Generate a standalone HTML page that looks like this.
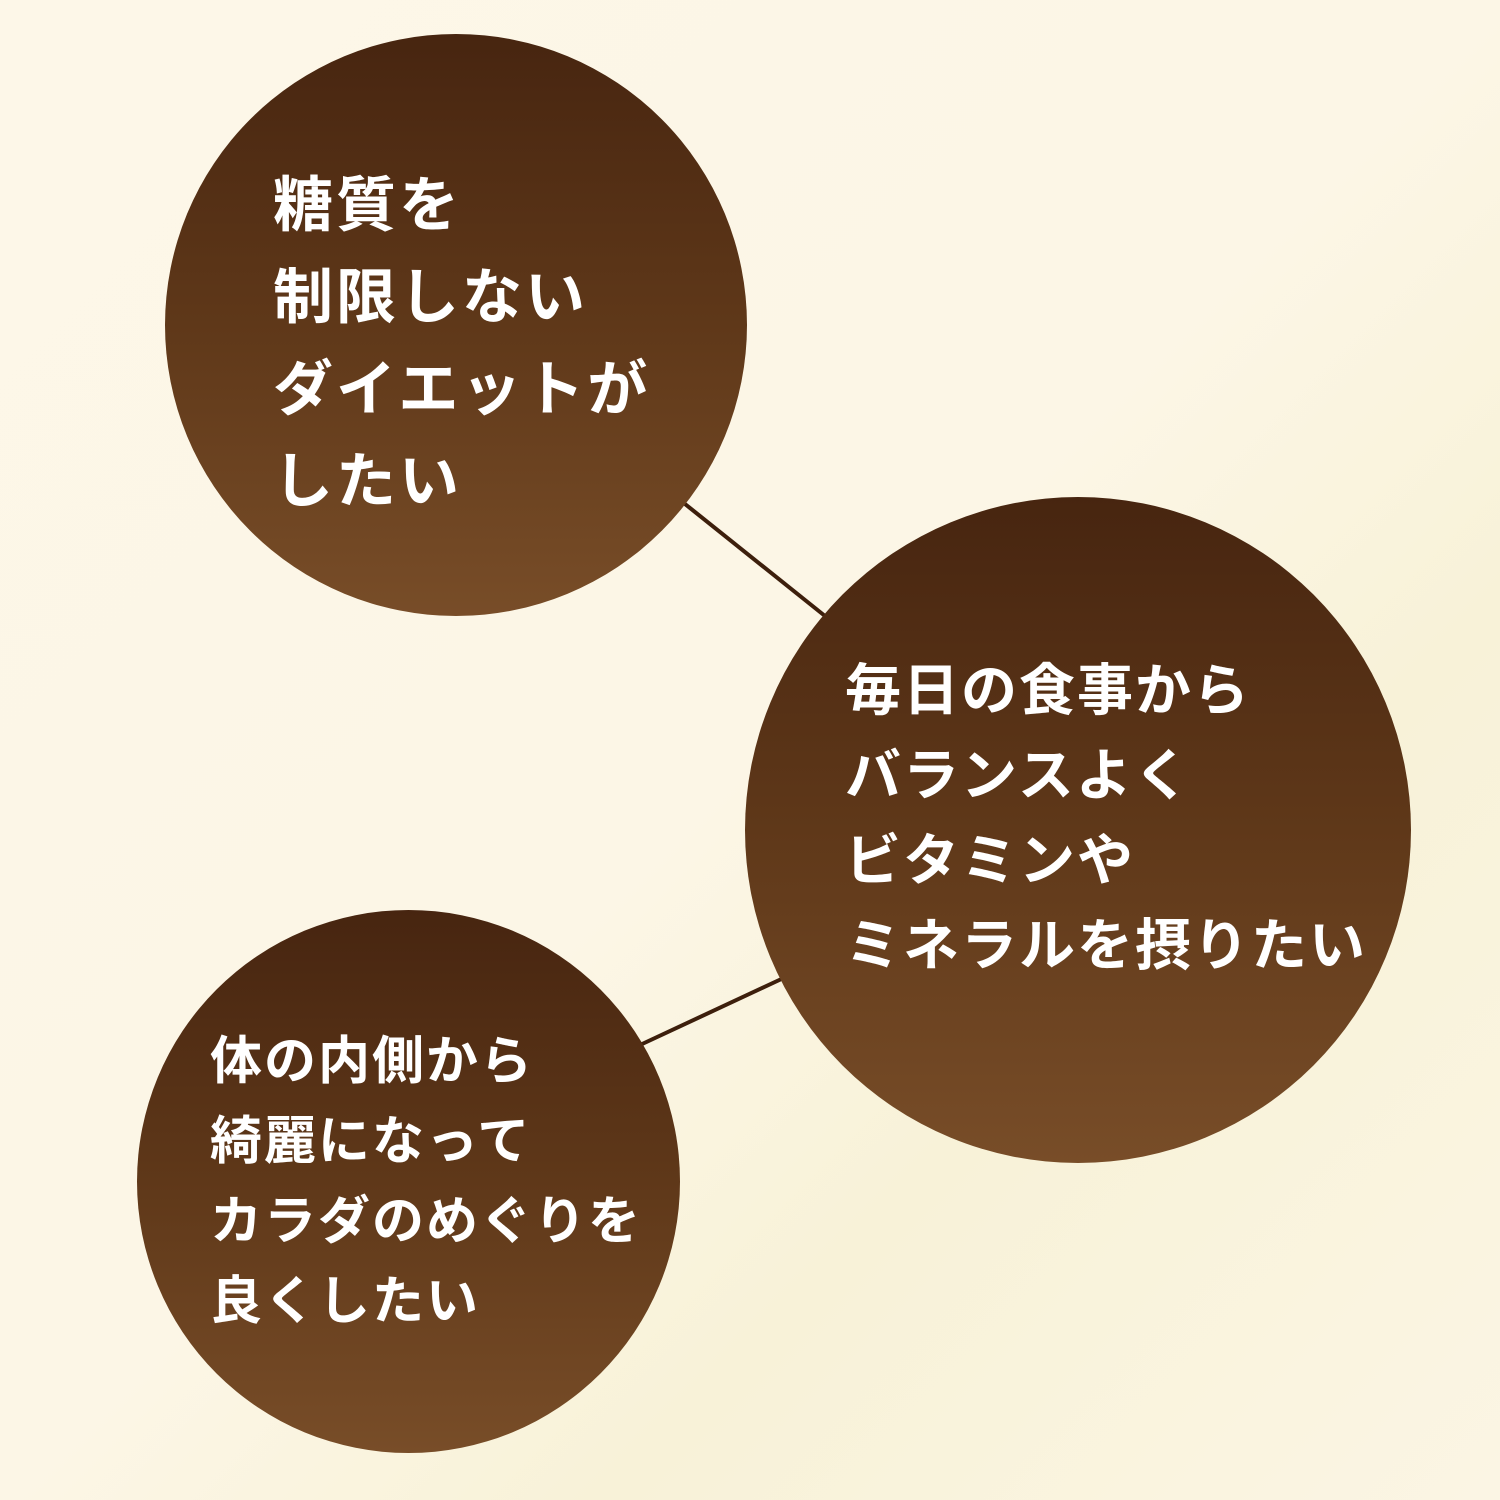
<!DOCTYPE html>
<html><head><meta charset="utf-8"><style>
html,body{margin:0;padding:0}
body{width:1500px;height:1500px;position:relative;overflow:hidden;
background:linear-gradient(135deg,#fdf7e8 0%,#fcf6e6 50%,#f8f2d8 70%,#fbf5e4 100%);
font-family:"Liberation Sans","Noto Sans CJK JP",sans-serif;}
.c{position:absolute;border-radius:50%;background:linear-gradient(180deg,#472510 0%,#5f3819 50%,#784d28 100%)}
.t{position:absolute;color:#fff;font-weight:bold;white-space:nowrap}
</style></head><body>
<svg width="1500" height="1500" style="position:absolute;left:0;top:0">
<line x1="680" y1="500" x2="830" y2="620" stroke="#3d1f0c" stroke-width="4"/>
<line x1="640" y1="1045" x2="790" y2="975" stroke="#3d1f0c" stroke-width="4"/>
</svg>
<div class="c" style="left:165px;top:34px;width:582px;height:582px"></div>
<div class="c" style="left:745px;top:497px;width:666px;height:666px"></div>
<div class="c" style="left:137px;top:910px;width:543px;height:543px"></div>
<div class="t" style="left:273px;top:160px;font-size:60px;line-height:92px;letter-spacing:3px">糖質を<br>制限しない<br>ダイエットが<br>したい</div>
<div class="t" style="left:845px;top:648px;font-size:56px;line-height:85px;letter-spacing:2px">毎日の食事から<br>バランスよく<br>ビタミンや<br>ミネラルを摂りたい</div>
<div class="t" style="left:210px;top:1022px;font-size:52px;line-height:80px;letter-spacing:2px">体の内側から<br>綺麗になって<br>カラダのめぐりを<br>良くしたい</div>
</body></html>
